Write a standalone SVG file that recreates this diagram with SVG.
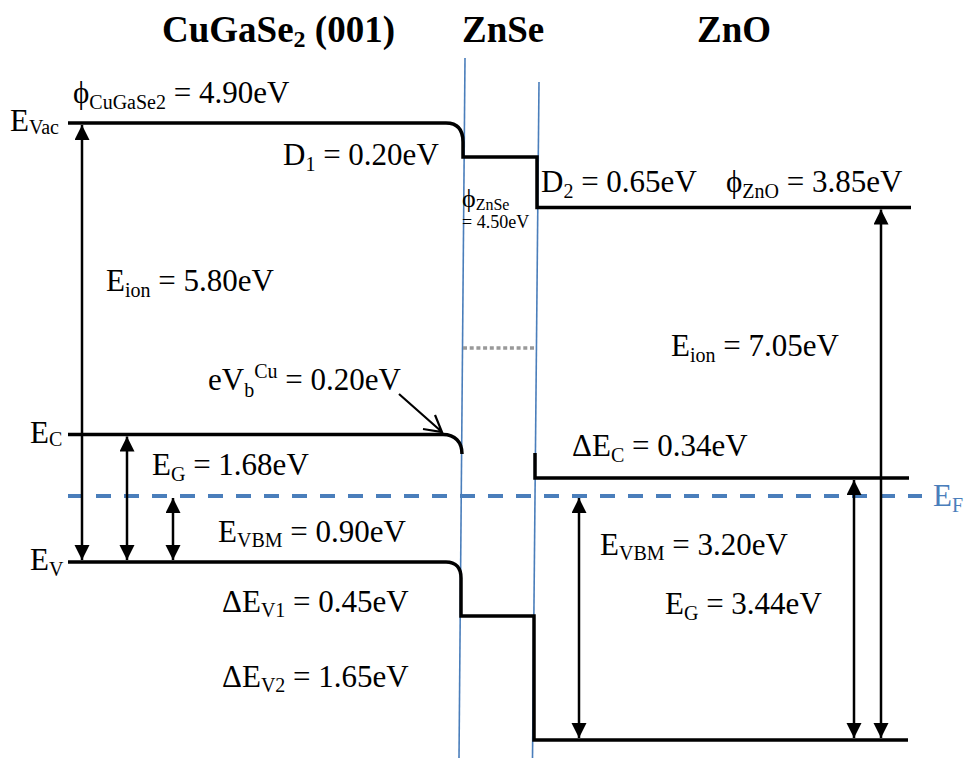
<svg xmlns="http://www.w3.org/2000/svg" width="965" height="758" viewBox="0 0 965 758">
<defs>
<style>
.t{font-family:"Liberation Serif","Times New Roman",serif;font-size:31px;fill:#000}
.h{font-family:"Liberation Serif","Times New Roman",serif;font-size:37px;font-weight:bold;fill:#000}
.s{font-size:20px}
.lvl{fill:none;stroke:#000;stroke-width:3.5;stroke-linejoin:miter}
.if{stroke:#4a7ebb;stroke-width:1.6;fill:none}
.arr{stroke:#000;stroke-width:2.5;fill:none;marker-start:url(#ah);marker-end:url(#ah)}
</style>
<marker id="ah" markerUnits="userSpaceOnUse" markerWidth="16" markerHeight="16" refX="15" refY="7.5" orient="auto-start-reverse">
<path d="M0,0 L15,7.5 L0,15 z" fill="#000"/>
</marker>
</defs>
<rect width="965" height="758" fill="#fff"/>

<g id="titles">
<text class="h" x="162" y="42">CuGaSe<tspan font-size="24" dy="5">2</tspan><tspan dy="-5"> (001)</tspan></text>
<text class="h" x="462" y="42">ZnSe</text>
<text class="h" x="697" y="42">ZnO</text>
</g>

<g id="interfaces">
<line class="if" x1="465" y1="58" x2="459" y2="758"/>
<line class="if" x1="539" y1="82" x2="532.5" y2="758"/>
</g>

<g id="vacuum-level">
<path class="lvl" d="M68,123 H446 C458,123 463,130 463,142 V157 H537 V207.5 H911"/>
<line x1="463" y1="348" x2="536" y2="348" stroke="#999" stroke-width="3.5" stroke-dasharray="4 2.7"/>
</g>

<g id="conduction-band">
<path class="lvl" d="M68,434.5 H443 C455,434.5 462,442 462,454"/>
<path class="lvl" d="M535,453 V478 H909"/>
</g>

<g id="fermi-level">
<line x1="68" y1="496" x2="922" y2="496" stroke="#4a7ebb" stroke-width="4" stroke-dasharray="15 13"/>
<text class="t" x="933" y="506" style="fill:#4a7ebb">E<tspan class="s" dy="6">F</tspan></text>
</g>

<g id="valence-band">
<path class="lvl" d="M68,562 H446 C456,562 461,568 461,578 V616 H534 V740 H908"/>
</g>

<g id="connectors">
<line class="arr" x1="82" y1="125" x2="82" y2="560"/>
<line class="arr" x1="127" y1="436.5" x2="127" y2="560"/>
<line class="arr" x1="173" y1="498" x2="173" y2="560"/>
<line class="arr" x1="579" y1="498" x2="579" y2="738"/>
<line class="arr" x1="854" y1="480" x2="854" y2="738"/>
<line class="arr" x1="881" y1="209.5" x2="881" y2="738"/>
<path d="M399,394 L442,432 M435,415 L442,432 L423,429" stroke="#000" stroke-width="2.2" fill="none"/>
</g>

<g id="labels">
<text class="t" x="10" y="131">E<tspan class="s" dy="3">Vac</tspan></text>
<text class="t" x="73" y="103">ϕ<tspan class="s" dy="6">CuGaSe2</tspan><tspan dy="-6"> = 4.90eV</tspan></text>
<text class="t" x="283" y="165">D<tspan class="s" dy="6">1</tspan><tspan dy="-6"> = 0.20eV</tspan></text>
<text class="t" x="462" y="207" style="font-size:26px">ϕ<tspan style="font-size:16px" dy="3">ZnSe</tspan></text>
<text class="t" x="462" y="228" style="font-size:18px">= 4.50eV</text>
<text class="t" x="541" y="192">D<tspan class="s" dy="6">2</tspan><tspan dy="-6"> = 0.65eV</tspan></text>
<text class="t" x="726" y="192">ϕ<tspan class="s" dy="6">ZnO</tspan><tspan dy="-6"> = 3.85eV</tspan></text>
<text class="t" x="106" y="291">E<tspan class="s" dy="6">ion</tspan><tspan dy="-6"> = 5.80eV</tspan></text>
<text class="t" x="671" y="356">E<tspan class="s" dy="6">ion</tspan><tspan dy="-6"> = 7.05eV</tspan></text>
<text class="t" x="208" y="390">eV<tspan class="s" dy="7">b</tspan><tspan class="s" dy="-19">Cu</tspan><tspan dy="12"> = 0.20eV</tspan></text>
<text class="t" x="30" y="443">E<tspan class="s" dy="3">C</tspan></text>
<text class="t" x="152" y="475">E<tspan class="s" dy="6">G</tspan><tspan dy="-6"> = 1.68eV</tspan></text>
<text class="t" x="572" y="456">ΔE<tspan class="s" dy="6">C</tspan><tspan dy="-6"> = 0.34eV</tspan></text>
<text class="t" x="218" y="542">E<tspan class="s" dy="5">VBM</tspan><tspan dy="-5"> = 0.90eV</tspan></text>
<text class="t" x="30" y="570">E<tspan class="s" dy="6">V</tspan></text>
<text class="t" x="600" y="555">E<tspan class="s" dy="5">VBM</tspan><tspan dy="-5"> = 3.20eV</tspan></text>
<text class="t" x="222" y="612">ΔE<tspan class="s" dy="5">V1</tspan><tspan dy="-5"> = 0.45eV</tspan></text>
<text class="t" x="665" y="614">E<tspan class="s" dy="6">G</tspan><tspan dy="-6"> = 3.44eV</tspan></text>
<text class="t" x="222" y="687">ΔE<tspan class="s" dy="5">V2</tspan><tspan dy="-5"> = 1.65eV</tspan></text>
</g>
</svg>
